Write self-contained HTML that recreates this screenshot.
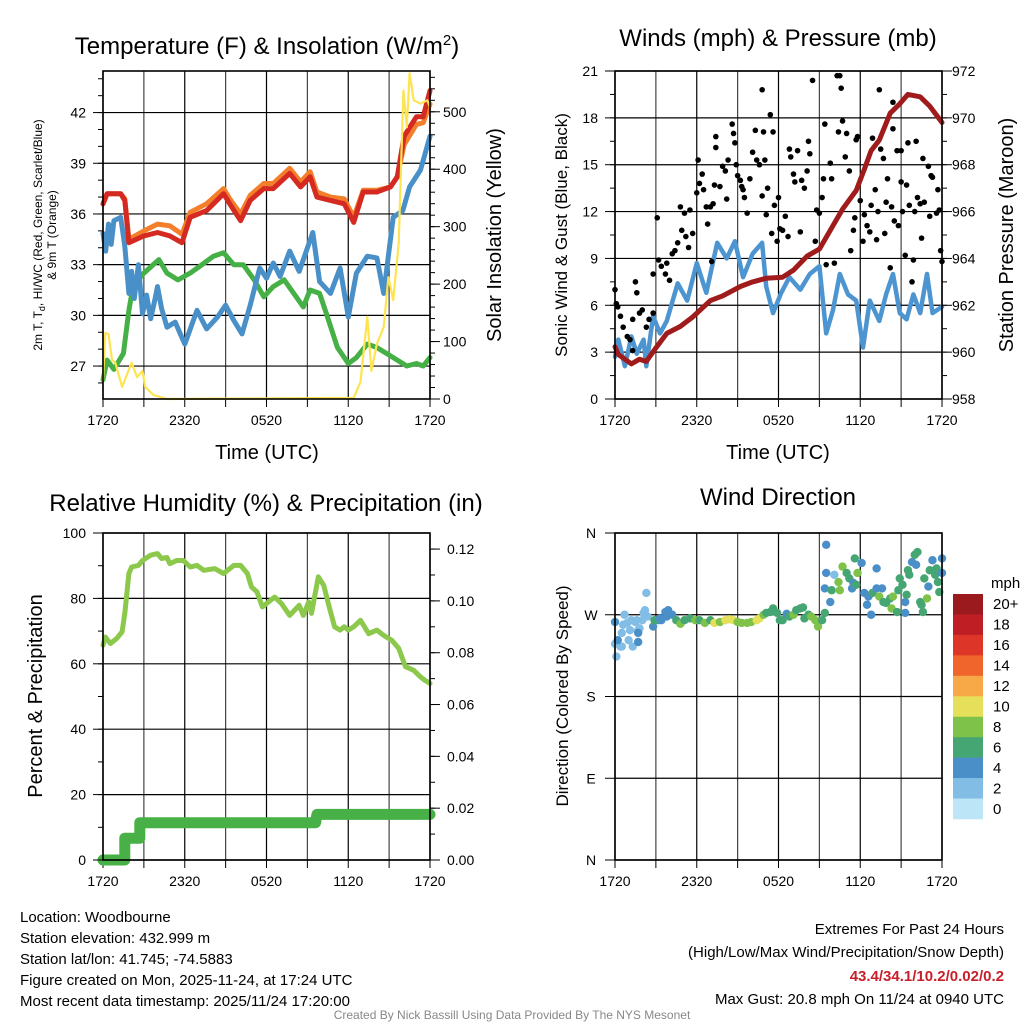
<!DOCTYPE html>
<html><head><meta charset="utf-8"><style>
html,body{margin:0;padding:0;background:#fff;}
svg{display:block;font-family:"Liberation Sans",Arial,sans-serif;}
</style></head><body>
<svg id="fig" width="1024" height="1024" viewBox="0 0 1024 1024" xmlns="http://www.w3.org/2000/svg">
<rect x="0" y="0" width="1024" height="1024" fill="#fff"/>
<g id="g1"></g>
<g id="g2"></g>
<g id="g3"></g>
<g id="g4"></g>

<text x="267" y="54" font-size="24" text-anchor="middle">Temperature (F) &amp; Insolation (W/m<tspan dy="-9" font-size="15">2</tspan><tspan dy="9">)</tspan></text>
<text x="778" y="46" font-size="24" text-anchor="middle">Winds (mph) &amp; Pressure (mb)</text>
<text x="266" y="511" font-size="24" text-anchor="middle">Relative Humidity (%) &amp; Precipitation (in)</text>
<text x="778" y="505" font-size="24" text-anchor="middle">Wind Direction</text>

<text x="267" y="459" font-size="20" text-anchor="middle">Time (UTC)</text>
<text x="778" y="459" font-size="20" text-anchor="middle">Time (UTC)</text>

<text transform="translate(42,235) rotate(-90)" font-size="12" text-anchor="middle">2m T, T<tspan dy="3" font-size="9">d</tspan><tspan dy="-3">, HI/WC (Red, Green, Scarlet/Blue)</tspan></text>
<text transform="translate(56,235) rotate(-90)" font-size="12" text-anchor="middle">&amp; 9m T (Orange)</text>
<text transform="translate(501,235) rotate(-90)" font-size="20" text-anchor="middle">Solar Insolation (Yellow)</text>
<text transform="translate(567,235) rotate(-90)" font-size="17" text-anchor="middle">Sonic Wind &amp; Gust (Blue, Black)</text>
<text transform="translate(1013,235) rotate(-90)" font-size="20" text-anchor="middle">Station Pressure (Maroon)</text>
<text transform="translate(42,696) rotate(-90)" font-size="20" text-anchor="middle">Percent &amp; Precipitation</text>
<text transform="translate(568,696) rotate(-90)" font-size="17" text-anchor="middle">Direction (Colored By Speed)</text>

<g id="cbar"></g>
<text x="991" y="588" font-size="15">mph</text>

<g font-size="15">
<text x="20" y="922">Location: Woodbourne</text>
<text x="20" y="943">Station elevation: 432.999 m</text>
<text x="20" y="964">Station lat/lon: 41.745; -74.5883</text>
<text x="20" y="985">Figure created on Mon, 2025-11-24, at 17:24 UTC</text>
<text x="20" y="1006">Most recent data timestamp: 2025/11/24 17:20:00</text>
</g>
<g font-size="15" text-anchor="end">
<text x="1004" y="934">Extremes For Past 24 Hours</text>
<text x="1004" y="957">(High/Low/Max Wind/Precipitation/Snow Depth)</text>
<text x="1004" y="981" fill="#c8202a" font-weight="bold">43.4/34.1/10.2/0.02/0.2</text>
<text x="1004" y="1004">Max Gust: 20.8 mph On 11/24 at 0940 UTC</text>
</g>
<text x="512" y="1019" font-size="12" fill="#888" text-anchor="middle">Created By Nick Bassill Using Data Provided By The NYS Mesonet</text>
</svg>
<script>
// ---------- data ----------
const xTickLabels = ["1720","2320","0520","1120","1720"];
const tempTicks = [27,30,33,36,39,42];
const solarTicks = [0,100,200,300,400,500];
const windTicks = [0,3,6,9,12,15,18,21];
const presTicks = [958,960,962,964,966,968,970,972];
const rhTicks = [0,20,40,60,80,100];
const precipTicks = [0,0.02,0.04,0.06,0.08,0.10,0.12];
const precipTickLabels = ["0.00","0.02","0.04","0.06","0.08","0.10","0.12"];
const dirTicks = [0,90,180,270,360];
const dirTickLabels = ["N","E","S","W","N"];

const redT = [0,0.3,1.3,1.6,1.9,3.0,4.0,4.9,5.8,6.4,7.6,8.85,9.3,10.1,10.8,11.8,12.5,13.7,14.5,15.2,15.7,16.7,17.7,18.4,19.1,20.1,21.1,21.6,22.1,23.0,23.5,24];
const redV = [36.6,37.2,37.2,36.8,34.3,34.7,34.9,34.7,34.3,35.8,36.2,37.2,36.6,35.6,36.8,37.5,37.5,38.4,37.6,38.2,37.0,36.8,36.6,35.5,37.3,37.3,37.6,38.2,40.6,41.75,41.75,43.3];
const orangeV = [36.6,37.2,37.2,36.9,34.5,35.0,35.4,35.3,34.8,36.1,36.6,37.5,36.9,36.0,37.1,37.8,37.8,38.7,37.9,38.5,37.3,37.0,36.9,35.8,37.4,37.4,37.6,38.2,40.1,41.3,41.4,42.5];
const blueT = [0,0.2,0.4,0.6,0.8,1.3,1.6,1.9,2.1,2.3,2.6,2.9,3.2,3.5,3.8,4.0,4.3,4.7,5.3,6.0,6.9,7.6,8.4,9.0,9.6,10.2,10.8,11.5,12.0,12.5,13.0,13.7,14.4,15.4,15.9,16.7,17.4,18.0,18.6,19.4,20.1,20.6,21.3,22.0,22.5,23.3,24];
const blueV = [34.85,33.8,35.4,34.2,35.6,35.8,34.1,31.3,32.6,31.0,33.0,30.1,31.2,29.8,30.9,31.7,30.4,29.3,29.6,28.3,30.3,29.2,29.9,30.6,29.7,28.9,30.6,32.8,32.2,33.1,32.3,33.8,32.6,34.9,32.0,31.3,32.8,29.9,32.5,33.5,33.4,31.3,35.8,36.2,37.6,38.6,40.6];
const greenT = [0,0.3,0.8,1.5,1.9,2.2,3.0,4.1,4.7,5.5,6.4,7.1,8.1,8.85,9.6,10.3,11.1,11.8,12.5,13.3,14.0,14.7,15.2,15.9,16.4,17.2,18.0,18.6,19.4,20.1,20.8,21.6,22.3,23.0,23.5,24];
const greenV = [26.2,27.35,26.8,27.75,30.3,31.7,32.5,33.3,32.5,32.1,32.5,32.9,33.5,33.7,33.0,33.0,32.1,31.1,31.7,32.1,31.3,30.5,31.5,31.3,30.1,28.1,27.15,27.5,28.3,28.1,27.75,27.35,27.0,27.15,27.0,27.5];
const yellowT = [0,0.17,0.4,0.66,0.9,1.4,2.1,2.5,2.9,3.1,3.7,4.7,18.4,18.9,19.4,19.7,20.1,20.6,20.95,21.3,21.7,22.05,22.3,22.5,22.8,23.3,23.8,24];
const yellowV = [33,115,113,68,63,21,63,38,49,21,7,0,2,30,143,49,96,125,212,172,271,537,473,567,520,514,520,508];

const windT = [0,0.24,0.73,1.2,1.6,2.1,2.3,2.8,3.3,3.8,4.6,5.3,6.0,6.7,7.5,8.2,8.8,9.4,10.1,10.8,11.1,11.6,12.2,12.8,13.6,14.3,15.0,15.5,16.0,16.5,17.1,17.7,18.2,18.7,19.4,19.9,20.4,20.9,21.4,21.9,22.4,22.9,23.3,24];
const windV = [2.7,3.8,2.1,4.0,2.9,3.8,2.1,5.3,4.2,5.0,7.4,6.3,8.7,6.8,10.0,9.0,10.1,7.8,9.3,10.0,7.2,5.5,6.8,7.8,7.0,8.0,8.5,4.2,5.7,8.0,6.7,6.3,3.3,6.3,5.0,6.7,8.0,5.5,5.1,6.7,5.5,8.0,5.5,5.9];
const presT = [0,0.24,1.2,1.8,2.3,2.9,3.8,4.8,5.7,7.0,7.9,9.2,10.1,11.1,12.3,13.1,14.1,15.0,15.8,16.7,17.7,18.3,18.8,19.4,20.2,20.9,21.5,22.4,23.1,24];
const presV = [960.23,959.9,959.5,959.7,959.6,960.1,960.8,961.1,961.5,962.2,962.4,962.8,963.0,963.15,963.2,963.5,964.1,964.4,965.2,966.1,966.9,967.8,968.6,969.05,970.2,970.6,971.0,970.9,970.5,969.8];
const gustT = [0,0.1,0.2,0.4,0.6,0.9,1.1,1.3,1.5,1.6,1.3,1.8,2.0,2.3,2.5,2.8,2.8,3.1,3.2,3.4,3.7,3.8,4.0,4.2,4.4,4.6,4.8,4.9,5.1,5.2,5.4,5.5,5.7,6.0,6.2,6.1,6.4,6.5,6.7,6.8,7.0,7.1,7.2,7.3,7.4,7.4,7.7,7.9,8.1,8.2,8.3,8.6,8.7,8.8,8.9,9.0,9.2,9.3,9.4,9.5,9.7,9.9,10.1,10.3,10.4,10.6,10.8,10.9,10.8,11.0,11.1,11.2,11.4,11.5,11.6,11.7,11.9,12.0,12.1,12.3,12.5,12.7,12.8,12.9,13.1,13.2,13.4,13.6,13.7,13.9,14.1,14.2,14.3,14.5,14.7,14.8,15.0,15.2,15.3,15.4,15.5,15.8,15.9,16.1,16.3,16.4,16.5,16.6,16.7,16.9,17.0,17.2,17.3,17.5,17.6,17.7,17.8,18.0,18.2,18.3,18.5,18.7,18.8,18.9,19.1,19.2,19.3,19.4,19.5,19.7,19.8,19.9,20.0,20.2,20.3,20.4,20.4,20.5,20.7,20.8,21.0,21.0,21.1,21.3,21.4,21.5,21.6,21.8,21.9,22.0,22.1,22.2,22.4,22.5,22.6,22.7,23.0,23.1,23.2,23.3,23.6,23.7,23.8,23.9,24.0];
const gustV = [7.0,6.1,5.9,5.3,4.6,4.0,3.8,3.1,7.5,6.8,5.1,5.5,5.7,4.6,5.1,5.5,8.0,11.6,8.9,8.5,8.0,8.7,7.6,9.3,9.5,10.0,12.3,10.8,11.9,10.4,9.7,12.1,10.6,13.2,13.8,15.3,14.4,13.4,12.3,11.2,12.3,8.8,12.5,13.7,16.8,16.1,13.6,14.9,14.6,12.8,15.3,17.6,17.0,16.4,15.0,14.3,14.0,13.6,13.4,12.9,11.9,14.1,15.8,17.2,15.3,15.0,19.8,17.1,13.0,15.3,11.8,13.5,18.2,10.6,17.1,12.4,10.1,12.9,10.9,10.8,11.7,10.4,16.0,15.5,14.4,13.9,15.9,10.7,14.0,13.5,14.6,16.5,15.7,20.4,10.1,12.1,11.9,12.9,14.1,17.6,8.6,15.1,14.1,8.7,20.7,17.1,20.7,19.9,17.8,15.5,17.0,14.6,9.5,10.8,11.6,16.6,16.8,12.7,10.1,11.8,11.1,10.7,12.4,16.7,13.4,10.2,12.0,19.8,16.0,15.4,10.6,12.6,14.1,8.4,12.3,17.3,19.0,11.4,15.9,11.1,15.9,13.9,12.0,9.2,13.7,16.4,12.4,7.5,8.9,12.0,16.5,12.9,12.5,10.3,15.4,12.6,14.9,11.7,14.3,14.2,11.9,13.4,12.1,9.5,8.8];

const rhT = [0,0.17,0.54,1.0,1.4,1.6,1.9,2.1,2.6,2.9,3.5,4.0,4.3,4.7,4.9,5.4,5.9,6.4,6.9,7.4,8.2,8.85,9.6,10.1,10.6,10.9,11.3,11.7,12.0,12.6,13.1,13.7,14.4,14.7,15.1,15.3,15.8,16.2,16.6,17.0,17.4,17.7,18.0,18.4,18.9,19.5,20.1,20.6,21.2,21.7,22.2,22.8,23.3,23.6,24];
const rhV = [65.7,68.2,66.2,67.7,69.8,75.4,87.6,89.6,90.1,91.6,93.2,93.7,92.2,92.5,90.6,91.6,91.6,89.6,90.1,88.6,89.1,87.6,90.1,90.1,87.6,83.5,82.0,77.4,78.4,80.4,78.4,74.8,77.9,74.8,78.9,75.4,86.6,84.0,77.4,71.3,70.3,71.3,70.3,71.3,73.3,69.2,70.3,68.7,67.2,64.7,59.1,58.0,56.0,55.0,54.0];
const precipT = [0,1.6,1.6,2.7,2.7,15.6,15.7,24];
const precipV = [0,0,0.0084,0.0084,0.0144,0.0144,0.0176,0.0176];

const dirT = [0.0,0.1,0.4,0.5,0.6,0.7,0.9,1.1,1.2,1.5,1.6,1.7,1.8,2.0,2.1,2.2,2.3,2.4,1.0,1.3,0.5,
 0.0,0.2,1.7,1.7,2.8,3.2,3.7,3.9,4.2,3.4,
 2.9,3.3,3.8,4.5,4.8,5.1,5.5,5.9,6.2,6.6,7.0,7.3,7.7,8.1,8.4,8.7,9.0,9.3,9.7,10.0,10.4,10.6,10.9,11.1,11.4,11.6,11.9,12.1,12.3,12.6,12.8,13.1,13.3,13.6,13.8,13.9,14.2,14.4,14.7,14.9,15.2,15.4,
 15.5,15.5,15.4,15.8,15.9,16.1,16.4,16.5,16.7,17.0,17.2,17.5,17.4,17.6,17.7,17.8,18.1,18.3,18.5,18.6,18.8,18.9,19.2,19.2,19.4,19.6,19.7,19.9,20.2,20.3,20.4,20.7,20.8,20.9,21.1,21.3,21.3,21.4,21.5,21.6,21.8,22.0,22.2,22.1,22.4,22.5,22.6,22.7,22.9,23.0,23.1,23.3,23.5,23.6,23.7,23.8,24.0,24.0];
const dirV = [238,224,235,250,259,270,261,253,264,262,264,253,255,264,272,275,294,268,242,235,235,
 262,242,250,240,257,264,273,275,270,264,
 264,266,268,264,260,264,266,264,264,261,264,261,262,264,265,264,262,261,261,262,264,266,270,272,273,277,272,264,264,271,268,270,275,277,278,266,270,268,264,257,264,272,
 347,316,299,284,297,314,306,297,323,316,310,305,299,332,303,316,327,294,281,290,270,294,321,299,290,299,284,283,288,277,290,273,297,310,303,272,284,292,319,314,328,336,339,325,284,281,273,310,288,301,319,330,314,321,306,295,332,316];
const dirSpd = [2,2,2,2,2,2,2,2,2,2,2,2,2,2,2,2,2,2,2,2,2,
 4,4,4,4,4,4,4,4,4,4,
 6,4,4,6,8,6,6,8,6,8,6,10,8,10,10,10,8,8,8,8,10,10,8,6,6,6,6,6,6,4,6,8,6,6,6,6,6,8,8,8,6,6,
 4,4,4,4,6,2,8,8,8,6,6,4,4,6,6,8,4,4,4,4,4,6,4,4,8,4,6,6,6,8,8,6,6,6,6,4,4,6,6,6,4,6,6,4,6,6,6,6,8,4,6,4,6,6,6,6,4,4];

const cbarLabels = ["20+","18","16","14","12","10","8","6","4","2","0"];
const cbarColors = ["#9a1a1e","#be1e24","#dd3527","#f0652b","#f7a847","#e6df5a","#7ec24a","#46a673","#4a8fc8","#82bde6","#bce5f8"];

// ---------- helpers ----------
const NS = "http://www.w3.org/2000/svg";
function mk(parent, tag, attrs){
  const e = document.createElementNS(NS, tag);
  for (const k in attrs) e.setAttribute(k, attrs[k]);
  parent.appendChild(e);
  return e;
}
function lin(d0,d1,r0,r1){ return v => r0 + (v-d0)/(d1-d0)*(r1-r0); }
function speedColor(s){ const idx = Math.min(10, Math.floor(s/2)); return cbarColors[10-idx]; }

function frame(g, X0, X1, Y0, Y1, name){
  const sx = lin(0,24,X0,X1);
  for (let h=0; h<=24; h+=3){
    const l = mk(g,"line",{x1:sx(h),x2:sx(h),y1:Y0,y2:Y1,stroke:(h%6===0?"#000":"#444"),"stroke-width":1.2});
    
    
    const t = mk(g,"line",{x1:sx(h),x2:sx(h),y1:Y1,y2:Y1+8,stroke:"#000","stroke-width":1});
    
    
  }
  xTickLabels.forEach((lab,i)=>{
    const t = mk(g,"text",{x:sx(i*6),y:Y1+26,"font-size":14,"text-anchor":"middle"});
    t.textContent = lab;
    
    
  });
  return sx;
}
function hgrid(g, X0, X1, y){
  const l = mk(g,"line",{x1:X0,x2:X1,y1:y,y2:y,stroke:"#000","stroke-width":1.2});
  
  
}
function border(g,X0,X1,Y0,Y1){
  const r = mk(g,"rect",{x:X0,y:Y0,width:X1-X0,height:Y1-Y0,fill:"none",stroke:"#000","stroke-width":1.6});
  
  
}
function leftTicks(g,X0,ticks,sy,labels,minorStep,dmin,dmax,lx){
  for (let v=Math.ceil(dmin/minorStep)*minorStep; v<=dmax+1e-9; v+=minorStep){
    const t = mk(g,"line",{x1:X0-5,x2:X0,y1:sy(v),y2:sy(v),stroke:"#000","stroke-width":1});
    
    
  }
  ticks.forEach((v,i)=>{
    const t = mk(g,"line",{x1:X0-10,x2:X0,y1:sy(v),y2:sy(v),stroke:"#000","stroke-width":1});
    
    
    const tx = mk(g,"text",{x:lx,y:sy(v)+5,"font-size":14,"text-anchor":"end"});
    tx.textContent = labels ? labels[i] : String(v);
    
    
  });
}
function rightTicks(g,X1,ticks,sy,labels,minorStep,dmin,dmax,lx){
  for (let v=Math.ceil(dmin/minorStep)*minorStep; v<=dmax+1e-9; v+=minorStep){
    const t = mk(g,"line",{x1:X1,x2:X1+5,y1:sy(v),y2:sy(v),stroke:"#000","stroke-width":1});
    
    
  }
  ticks.forEach((v,i)=>{
    const t = mk(g,"line",{x1:X1,x2:X1+10,y1:sy(v),y2:sy(v),stroke:"#000","stroke-width":1});
    
    
    const tx = mk(g,"text",{x:lx,y:sy(v)+5,"font-size":14,"text-anchor":"start"});
    tx.textContent = labels ? labels[i] : String(v);
    
    
  });
}
function pathD(ts, vs, sx, sy){
  return ts.map((t,i)=>(i?"L":"M")+sx(t).toFixed(1)+","+sy(vs[i]).toFixed(1)).join("");
}
function line(g, ts, vs, sx, sy, color, w, name){
  const p = mk(g,"path",{d:pathD(ts,vs,sx,sy),fill:"none",stroke:color,"stroke-width":w,"stroke-linejoin":"round","stroke-linecap":"round"});
  
  
}

// ---------- Panel 1 ----------
(function(){
  const g = document.getElementById("g1");
  const X0=103,X1=430,Y0=71,Y1=399;
  const sx = frame(g,X0,X1,Y0,Y1);
  const sy = lin(25.05,44.46,Y1,Y0);
  const sy2 = lin(0,571,Y1,Y0);
  tempTicks.forEach(v=>hgrid(g,X0,X1,sy(v)));
  line(g,greenT,greenV,sx,sy,"#45b045",5,"dewpoint-line");
  line(g,blueT,blueV,sx,sy,"#4a90c8",5,"windchill-line");
  line(g,redT,orangeV,sx,sy,"#f47f2a",5,"9m-temperature-line");
  line(g,redT,redV,sx,sy,"#d42a22",5,"2m-temperature-line");
  line(g,yellowT,yellowV,sx,sy2,"#fde450",2.2,"insolation-line");
  border(g,X0,X1,Y0,Y1);
  leftTicks(g,X0,tempTicks,sy,null,1,25.1,44.4,86);
  rightTicks(g,X1,solarTicks,sy2,null,20,0,570,443);
})();

// ---------- Panel 2 ----------
(function(){
  const g = document.getElementById("g2");
  const X0=615,X1=942,Y0=71,Y1=399;
  const sx = frame(g,X0,X1,Y0,Y1);
  const sy = lin(0,21,Y1,Y0);
  const sy2 = lin(958,972,Y1,Y0);
  windTicks.forEach(v=>hgrid(g,X0,X1,sy(v)));
  line(g,windT,windV,sx,sy,"#4d95d0",4.5,"sonic-wind-line");
  gustT.forEach((t,i)=>{
    const c = mk(g,"circle",{cx:sx(t),cy:sy(gustV[i]),r:2.8,fill:"#000"});
    
    
  });
  line(g,presT,presV,sx,sy2,"#a01c1c",5,"pressure-line");
  border(g,X0,X1,Y0,Y1);
  leftTicks(g,X0,windTicks,sy,null,1.5,0,21,598);
  rightTicks(g,X1,presTicks,sy2,null,1,958,972,952);
})();

// ---------- Panel 3 ----------
(function(){
  const g = document.getElementById("g3");
  const X0=103,X1=430,Y0=533,Y1=860;
  const sx = frame(g,X0,X1,Y0,Y1);
  const sy = lin(0,100,Y1,Y0);
  const sy2 = lin(0,0.1262,Y1,Y0);
  rhTicks.forEach(v=>hgrid(g,X0,X1,sy(v)));
  line(g,rhT,rhV,sx,sy,"#8cc84b",5,"humidity-line");
  line(g,precipT,precipV,sx,sy2,"#47b047",11,"precipitation-line");
  border(g,X0,X1,Y0,Y1);
  leftTicks(g,X0,rhTicks,sy,null,10,0,100,86);
  rightTicks(g,X1,precipTicks,sy2,precipTickLabels,0.01,0,0.126,447);
})();

// ---------- Panel 4 ----------
(function(){
  const g = document.getElementById("g4");
  const X0=615,X1=942,Y0=533,Y1=860;
  const sx = frame(g,X0,X1,Y0,Y1);
  const sy = lin(0,360,Y1,Y0);
  dirTicks.forEach(v=>hgrid(g,X0,X1,sy(v)));
  dirT.forEach((t,i)=>{
    const c = mk(g,"circle",{cx:sx(t),cy:sy(dirV[i]),r:4.2,fill:speedColor(dirSpd[i])});
    
    
  });
  border(g,X0,X1,Y0,Y1);
  dirTicks.forEach((v,i)=>{
    const t = mk(g,"line",{x1:X0-10,x2:X0,y1:sy(v),y2:sy(v),stroke:"#000","stroke-width":1});
    
    
    const tx = mk(g,"text",{x:591,y:sy(v)+5,"font-size":14,"text-anchor":"middle"});
    tx.textContent = dirTickLabels[i];
    
    
  });
  // colorbar
  const cb = document.getElementById("cbar");
  const bh = 225/11;
  cbarLabels.forEach((lab,i)=>{
    const r = mk(cb,"rect",{x:953,y:594+i*bh,width:30,height:bh+0.3,fill:cbarColors[i]});
    
    
    const t = mk(cb,"text",{x:993,y:594+i*bh+bh/2+5,"font-size":15});
    t.textContent = lab;
    
    
  });
})();
</script>
</body></html>
